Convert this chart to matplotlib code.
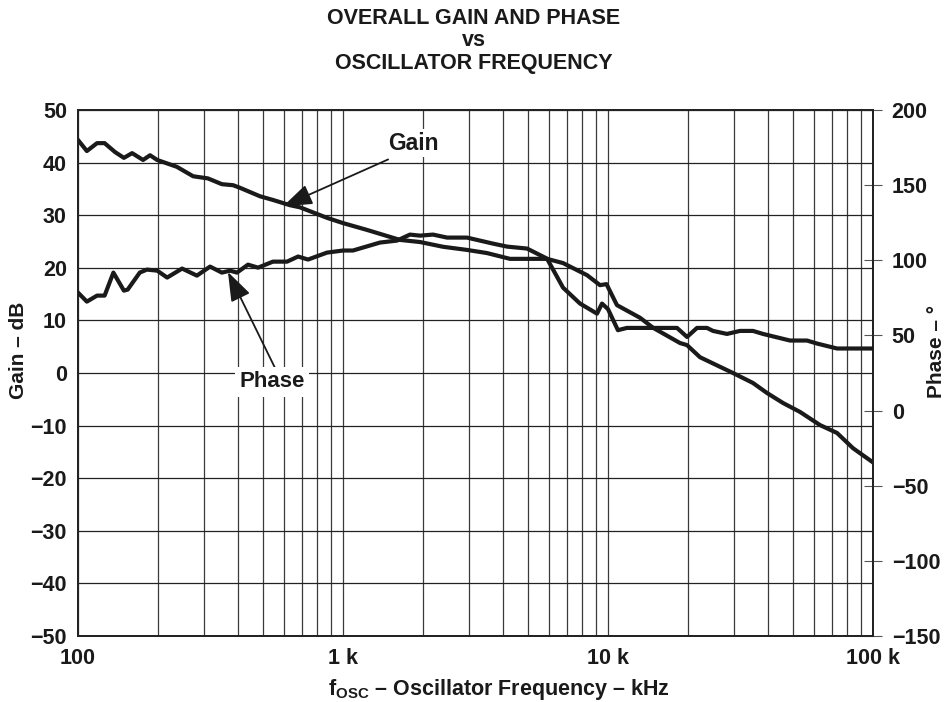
import matplotlib
matplotlib.use("Agg")
import matplotlib.pyplot as plt
import numpy as np
from matplotlib.ticker import FixedLocator, NullFormatter, NullLocator

plt.rcParams['font.family'] = ['Liberation Sans', 'DejaVu Sans']
plt.rcParams['font.weight'] = 'bold'
plt.rcParams['mathtext.fontset'] = 'custom'
plt.rcParams['mathtext.bf'] = 'Liberation Sans:bold'
plt.rcParams['mathtext.rm'] = 'Liberation Sans:bold'

# ---- data ----
gain_freq = [100, 108, 118, 126, 138, 149, 160, 176, 187, 199, 236, 272, 309, 349, 385, 409,
             486, 544, 631, 688, 870, 1000, 1232, 1641, 1953, 2384, 2937, 3495, 4268, 5887,
             6766, 8335, 9330, 9870, 10810, 13210, 14790, 18690, 19870, 22240, 29620, 35250,
             39810, 45750, 53030, 63100, 73160, 84070, 100000]
gain_db = [44.3, 42.2, 43.7, 43.7, 42.0, 40.9, 41.8, 40.5, 41.4, 40.5, 39.2, 37.4, 37.0, 35.9,
           35.7, 35.2, 33.6, 32.9, 31.9, 31.5, 29.5, 28.5, 27.2, 25.3, 24.9, 24.0, 23.4, 22.8,
           21.7, 21.7, 20.9, 18.6, 16.7, 16.9, 12.9, 10.5, 8.6, 5.7, 5.3, 3.0, 0.0, -1.9,
           -3.8, -5.7, -7.4, -9.9, -11.4, -14.3, -17.0]

phase_freq = [100, 108, 118, 126, 136, 149, 154, 171, 182, 199, 217, 247, 281, 315, 349, 375,
              398, 438, 478, 544, 615, 677, 738, 870, 1000, 1090, 1379, 1599, 1789, 1953, 2186,
              2470, 2937, 3680, 4160, 4950, 5887, 6766, 7842, 9090, 9490, 10000, 10900, 11790,
              18210, 19870, 21670, 23630, 24900, 28120, 31480, 35250, 38450, 48620, 56350,
              61490, 73160, 100000]
phase_deg = [78.5, 72.5, 76.5, 76.5, 91.8, 79.8, 80.5, 91.8, 93.8, 93.1, 88.5, 94.5, 89.8,
             95.8, 91.8, 93.1, 91.8, 97.1, 95.1, 99.1, 99.1, 102.5, 100.5, 105.1, 106.5, 106.5,
             111.8, 113.1, 117.1, 116.4, 117.1, 115.1, 115.1, 111.1, 109.1, 107.8, 101.1, 81.8,
             71.2, 64.5, 71.2, 67.5, 53.5, 55.0, 55.0, 49.0, 55.0, 55.0, 53.0, 51.0, 53.0, 53.0,
             51.0, 46.6, 46.6, 44.6, 41.3, 41.3]

x_ticks = [100, 1000, 10000, 100000]
x_ticklabels = ['100', '1 k', '10 k', '100 k']
gain_ticks = [-50, -40, -30, -20, -10, 0, 10, 20, 30, 40, 50]
gain_ticklabels = ['\u221250', '\u221240', '\u221230', '\u221220', '\u221210', '0',
                   '10', '20', '30', '40', '50']
phase_ticks = [-150, -100, -50, 0, 50, 100, 150, 200]
phase_ticklabels = ['\u2212150', '\u2212100', '\u221250', '0', '50', '100', '150', '200']

# annotation anchors (data coords: Hz, dB)
gain_label_pos = (1840, 43.7)
gain_arrow_tail = (1480, 40.6)
gain_arrow_head = (594, 31.7)
phase_label_pos = (540, -1.7)
phase_arrow_tail = (556, 0.8)
phase_arrow_head = (368, 19.2)

INK = '#1a1a1a'
TICK_FS = 15.5
TITLE_FS = 15.5

# ---- figure ----
fig = plt.figure(figsize=(9.48, 7.02), dpi=100)
ax = fig.add_axes([78/948, 1-636/702, (873-78)/948, (636-110)/702])
ax2 = ax.twinx()

ax.set_xscale('log')
ax.set_xlim(100, 100000)
ax.set_ylim(-50, 50)
ax2.set_ylim(-150, 200)

minor = [m * d for d in [100, 1000, 10000] for m in range(2, 10)]
ax.xaxis.set_major_locator(FixedLocator(x_ticks))
ax.xaxis.set_minor_locator(FixedLocator(minor))
ax.xaxis.set_minor_formatter(NullFormatter())
ax.set_xticklabels(x_ticklabels)
ax.set_yticks(gain_ticks)
ax.set_yticklabels(gain_ticklabels)
ax.yaxis.set_minor_locator(NullLocator())

ax.grid(True, which='both', axis='x', color='#3a3a3a', lw=0.9)
ax.grid(True, which='major', axis='y', color='#222222', lw=0.9)
ax.tick_params(axis='both', which='both', length=0, labelsize=TICK_FS, pad=8, labelcolor=INK)
ax.tick_params(axis='x', pad=9)

ax2.set_yticks(phase_ticks)
ax2.set_yticklabels(phase_ticklabels)
ax2.tick_params(axis='y', direction='inout', length=13, width=0.8, color='#555555',
                labelsize=TICK_FS, pad=7, labelcolor=INK)

for a in (ax, ax2):
    for s in a.spines.values():
        s.set_linewidth(1.3)
        s.set_color('#222222')

ax.plot(gain_freq, gain_db, color=INK, lw=3.0, solid_joinstyle='round', zorder=5)
ax2.plot(phase_freq, phase_deg, color=INK, lw=3.0, solid_joinstyle='round', zorder=5)

arrowprops = dict(arrowstyle='-|>,head_length=0.9,head_width=0.32', mutation_scale=20,
                  color=INK, lw=1.3, shrinkA=0, shrinkB=0)
ax.annotate('', xy=gain_arrow_head, xytext=gain_arrow_tail, arrowprops=arrowprops, zorder=6)
ax.annotate('', xy=phase_arrow_head, xytext=phase_arrow_tail, arrowprops=arrowprops, zorder=6)
ax.text(*gain_label_pos, 'Gain', ha='center', va='center', fontsize=16.5, fontweight='bold',
        color=INK, bbox=dict(facecolor='white', edgecolor='none', pad=2), zorder=7)
ax.text(*phase_label_pos, 'Phase', ha='center', va='center', fontsize=16, fontweight='bold',
        color=INK, bbox=dict(facecolor='white', edgecolor='none', pad=3), zorder=7)

fig.text(0.5, 1-19/702, 'OVERALL GAIN AND PHASE', ha='center', va='center',
         fontsize=TITLE_FS, fontweight='bold', color=INK)
fig.text(0.5, 1-41/702, 'vs', ha='center', va='center', fontsize=TITLE_FS,
         fontweight='bold', color=INK)
fig.text(0.5, 1-63/702, 'OSCILLATOR FREQUENCY', ha='center', va='center',
         fontsize=TITLE_FS, fontweight='bold', color=INK)

fig.text(19/948, 1-350/702, 'Gain \u2013 dB', rotation=90, ha='center', va='center',
         fontsize=15, fontweight='bold', color=INK)
fig.text(937/948, 1-352/702, 'Phase \u2013 \u00b0', rotation=90, ha='center', va='center',
         fontsize=15, fontweight='bold', color=INK)
fig.text(499/948, 1-689/702, 'f$_{\\mathbf{OSC}}$ \u2013 Oscillator Frequency \u2013 kHz',
         ha='center', va='center', fontsize=15.5, fontweight='bold', color=INK)

fig.savefig('out.png', dpi=100)
